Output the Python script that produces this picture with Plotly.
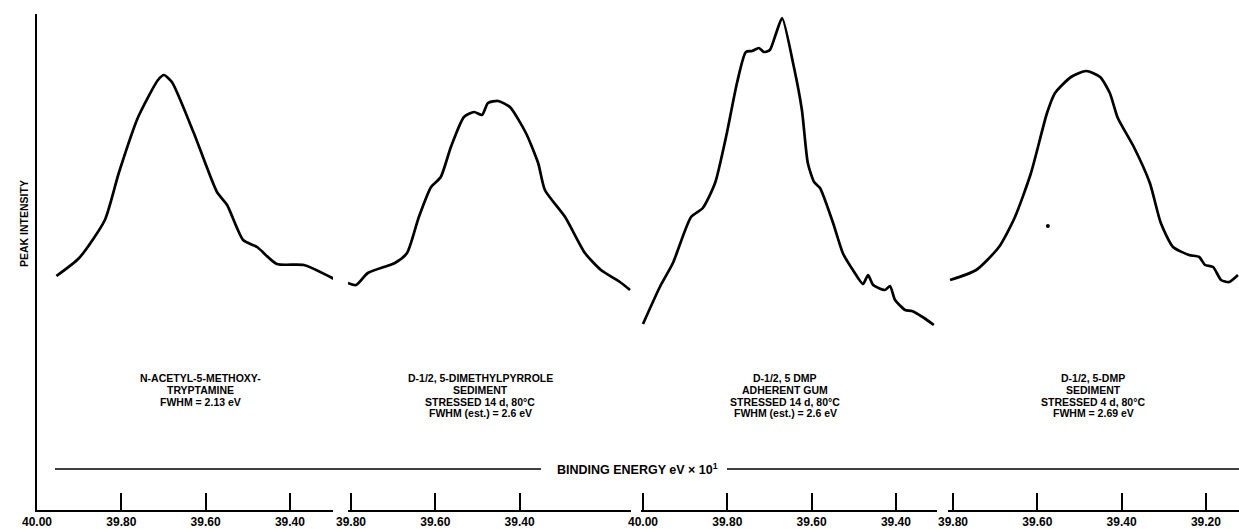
import plotly.graph_objects as go

# ---------------- data (binding energy eV x10^1, intensity arbitrary) -------------
e1 = [39.954, 39.900, 39.839, 39.806, 39.760, 39.713, 39.699, 39.680, 39.628, 39.573,
      39.549, 39.511, 39.478, 39.431, 39.367, 39.295]
i1 = [234, 252, 290, 337, 393, 430, 435, 428, 377, 318,
      305, 270, 263, 246, 245, 231]

e2 = [39.807, 39.788, 39.760, 39.696, 39.667, 39.639, 39.610, 39.587, 39.563, 39.532,
      39.508, 39.489, 39.475, 39.451, 39.423, 39.385, 39.356, 39.340, 39.292, 39.245,
      39.207, 39.162, 39.138]
i2 = [227, 225, 237, 247, 257, 293, 323, 333, 363, 393,
      398, 395, 407, 409, 403, 377, 347, 320, 293, 257,
      240, 228, 220]

e3 = [40.000, 39.960, 39.929, 39.886, 39.858, 39.829, 39.801, 39.777, 39.756, 39.741,
      39.725, 39.713, 39.699, 39.684, 39.670, 39.642, 39.623, 39.609, 39.594, 39.580,
      39.549, 39.526, 39.502, 39.478, 39.466, 39.454, 39.426, 39.414, 39.402, 39.378,
      39.362, 39.333, 39.310]
i3 = [186, 223, 247, 293, 302, 327, 377, 427, 458, 459,
      462, 458, 460, 477, 492, 443, 400, 347, 328, 322,
      287, 257, 240, 226, 235, 225, 220, 224, 210, 200,
      199, 192, 185]

e4 = [39.807, 39.745, 39.691, 39.653, 39.615, 39.577, 39.558, 39.520, 39.484, 39.451,
      39.428, 39.409, 39.371, 39.333, 39.307, 39.278, 39.240, 39.216, 39.202, 39.183,
      39.164, 39.145, 39.124]
i4 = [230, 240, 263, 293, 337, 397, 417, 433, 439, 433,
      417, 392, 363, 327, 287, 263, 255, 253, 245, 243,
      230, 228, 235]

# stray speck visible on the original trace 4 panel
speck_e = [39.575]
speck_i = [284]

ticks1 = [40.00, 39.80, 39.60, 39.40]
ticks2 = [39.80, 39.60, 39.40]
ticks3 = [40.00, 39.80, 39.60, 39.40]
ticks4 = [39.80, 39.60, 39.40, 39.20]

label1 = ["N-ACETYL-5-METHOXY-", "TRYPTAMINE", "FWHM = 2.13 eV"]
label2 = ["D-1/2, 5-DIMETHYLPYRROLE", "SEDIMENT", "STRESSED 14 d, 80°C", "FWHM (est.) = 2.6 eV"]
label3 = ["D-1/2, 5 DMP", "ADHERENT GUM", "STRESSED 14 d, 80°C", "FWHM (est.) = 2.6 eV"]
label4 = ["D-1/2, 5-DMP", "SEDIMENT", "STRESSED 4 d, 80°C", "FWHM = 2.69 eV"]

x_title = "BINDING ENERGY eV × 10<sup>1</sup>"
y_title = "PEAK INTENSITY"

# ---------------- figure -------------
FONT = "Liberation Sans"
W, H = 1239, 529
ML, MR, MT, MB = 37, 0, 14, 19
PW = W - ML - MR

def fx(px):
    return (px - ML) / PW

fig = go.Figure()
series = [(e1, i1, "x"), (e2, i2, "x2"), (e3, i3, "x3"), (e4, i4, "x4")]
for e, inten, ax in series:
    fig.add_trace(go.Scatter(x=e, y=inten, xaxis=ax, yaxis="y", mode="lines",
                             line=dict(color="black", width=2.7, shape="spline", smoothing=0.6),
                             hoverinfo="skip", showlegend=False))
fig.add_trace(go.Scatter(x=speck_e, y=speck_i, xaxis="x4", yaxis="y", mode="markers",
                         marker=dict(color="black", size=4), hoverinfo="skip", showlegend=False))

segs = [
    ("xaxis", (37, 333), (40.00, 39.2978), ticks1),
    ("xaxis2", (348, 631), (39.8071, 39.1357), ticks2),
    ("xaxis3", (641, 937), (40.0047, 39.3025), ticks3),
    ("xaxis4", (948, 1239), (39.8119, 39.1215), ticks4),
]
for name, (p0, p1), rng, tv in segs:
    fig.layout[name] = dict(
        domain=[fx(p0), fx(p1)], range=list(rng), anchor="y",
        tickmode="array", tickvals=tv, ticktext=[f"{v:.2f}" for v in tv],
        ticks="inside", ticklen=17, tickwidth=2, tickcolor="black",
        showline=True, linewidth=2, linecolor="black",
        showgrid=False, zeroline=False,
        tickfont=dict(family=FONT, size=12, color="black", weight="bold"),
        fixedrange=True,
    )

fig.update_layout(
    yaxis=dict(domain=[0, 1], range=[0, 496], showline=True, linewidth=2, linecolor="black",
               showticklabels=False, ticks="", showgrid=False, zeroline=False, fixedrange=True),
    width=W, height=H, margin=dict(l=ML, r=MR, t=MT, b=MB, pad=0),
    paper_bgcolor="white", plot_bgcolor="white", showlegend=False,
)

ann_font = dict(family=FONT, size=10.5, color="black", weight="bold")
blocks = [(label1, 200), (label2, 480), (label3, 785), (label4, 1093)]
line_y = [132, 120, 108.5, 97]
for lines, cx in blocks:
    for k, txt in enumerate(lines):
        fig.add_annotation(x=fx(cx), xref="paper", y=line_y[k], yref="y", text=txt,
                           showarrow=False, font=ann_font, xanchor="center", yanchor="middle")

# binding energy axis title with rule lines
fig.add_annotation(x=fx(637), xref="paper", y=41, yref="y", text=x_title, showarrow=False,
                   font=dict(family=FONT, size=12.5, color="black", weight="bold"),
                   xanchor="center", yanchor="middle")
fig.add_shape(type="line", xref="paper", yref="y", x0=fx(55), x1=fx(541), y0=41, y1=41,
              line=dict(color="black", width=1.6))
fig.add_shape(type="line", xref="paper", yref="y", x0=fx(727), x1=1.0, y0=41, y1=41,
              line=dict(color="black", width=1.6))

fig.add_annotation(x=fx(24), xref="paper", y=510 - 224, yref="y", text=y_title, showarrow=False,
                   textangle=-90, font=ann_font, xanchor="center", yanchor="middle")

fig.write_html("out.html", config={"displayModeBar": False},
               post_script="document.body.style.margin='0';")
